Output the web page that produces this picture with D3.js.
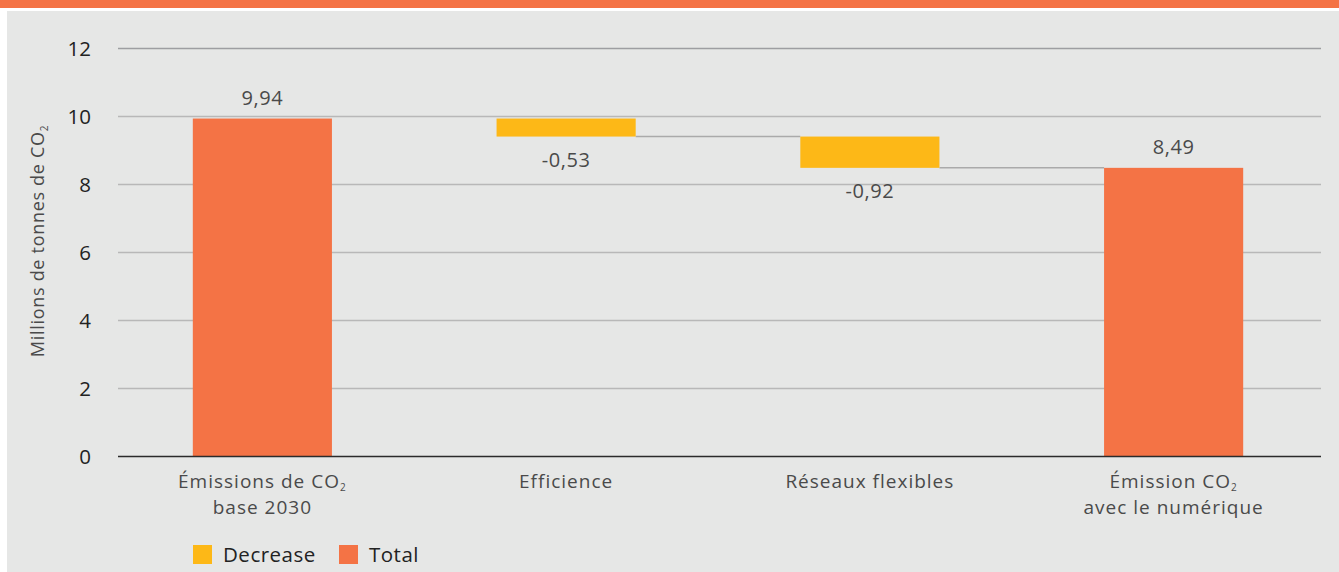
<!DOCTYPE html>
<html><head><meta charset="utf-8">
<script src="https://cdn.jsdelivr.net/npm/d3@7"></script>
<style>
html,body{margin:0;padding:0;background:#fff;}
text{font-family:"Open Sans","Noto Sans",sans-serif;}
</style></head>
<body>
<svg id="chart" width="1339" height="572"></svg>
<script>
const categories = [["Émissions de CO|2", "base 2030"], ["Efficience"], ["Réseaux flexibles"], ["Émission CO|2", "avec le numérique"]];
const kinds = ["Total", "Decrease", "Decrease", "Total"];
const values = [9.94, -0.53, -0.92, 8.49];
const labels = ["9,94", "-0,53", "-0,92", "8,49"];
const yTicks = [0, 2, 4, 6, 8, 10, 12];
const legendItems = ["Decrease", "Total"];
const colors = {Decrease: "#FDB817", Total: "#F47345"};

const svg = d3.select("#chart");
svg.append("rect").attr("x", 0).attr("y", 0).attr("width", 1339).attr("height", 8).attr("fill", "#F47345");
svg.append("rect").attr("x", 7).attr("y", 11).attr("width", 1332).attr("height", 561).attr("fill", "#E6E7E6");

const x0 = 118, x1 = 1321;
const y = d3.scaleLinear().domain([0, 12]).range([456.5, 48.5]);
const x = d3.scaleBand().domain(d3.range(categories.length)).range([110.5, 1325.5]).paddingInner(0.542).paddingOuter(0.271);

// gridlines
svg.append("g").selectAll("line").data(yTicks.filter(d => d > 0)).join("line")
  .attr("x1", x0).attr("x2", x1).attr("y1", d => y(d)).attr("y2", d => y(d))
  .attr("stroke", d => d === 12 ? "#9d9ea1" : "#b8b8b8").attr("stroke-width", 1.5);

// y tick labels
svg.append("g").selectAll("text").data(yTicks).join("text")
  .attr("x", 91).attr("y", d => y(d) + 7).attr("text-anchor", "end")
  .attr("font-size", 20.5).attr("fill", "#222").text(d => d);

// compute waterfall
let run = 0;
const bars = values.map((v, i) => {
  let lo, hi;
  if (kinds[i] === "Total") { lo = 0; hi = v; run = v; }
  else { hi = run; lo = run + v; run = lo; }
  return {i, lo, hi, kind: kinds[i]};
});

// connectors (from decrease bars to the next bar)
for (let i = 1; i < bars.length - 1; i++) {
  const lvl = bars[i].lo;
  svg.append("line").attr("x1", x(i) + x.bandwidth()).attr("x2", x(i + 1))
    .attr("y1", y(lvl)).attr("y2", y(lvl)).attr("stroke", "#aaa").attr("stroke-width", 1.5);
}

svg.append("g").selectAll("rect").data(bars).join("rect")
  .attr("x", d => x(d.i)).attr("width", x.bandwidth())
  .attr("y", d => y(d.hi)).attr("height", d => y(d.lo) - y(d.hi))
  .attr("fill", d => colors[d.kind]);

// value labels
svg.append("g").selectAll("text").data(bars).join("text")
  .attr("x", d => x(d.i) + x.bandwidth() / 2)
  .attr("y", d => d.kind === "Total" ? y(d.hi) - 14 : y(d.lo) + 30)
  .attr("text-anchor", "middle").attr("font-size", 20).attr("letter-spacing", 0.6).attr("fill", "#4a4a4a")
  .text((d, i) => labels[i]);

// x axis baseline
svg.append("line").attr("x1", x0).attr("x2", x1).attr("y1", y(0)).attr("y2", y(0))
  .attr("stroke", "#2b2b2b").attr("stroke-width", 1.5);

// category labels with subscript (one text element per line)
categories.forEach((lines, i) => {
  const cx = x(i) + x.bandwidth() / 2;
  lines.forEach((ln, j) => {
    const parts = ln.split("|");
    const t = svg.append("text").attr("text-anchor", "middle").attr("font-size", 19)
      .attr("letter-spacing", 1).attr("fill", "#4a4a4a")
      .attr("x", cx).attr("y", 488 + j * 26);
    t.append("tspan").text(parts[0]);
    if (parts[1]) {
      t.append("tspan").attr("font-size", 10).attr("dy", 3).text(parts[1]);
    }
  });
});

// y axis title
const yt = svg.append("text").attr("transform", "translate(44,241) rotate(-90)")
  .attr("text-anchor", "middle").attr("font-size", 18).attr("letter-spacing", 0.7).attr("fill", "#4a4a4a");
yt.append("tspan").text("Millions de tonnes de CO");
yt.append("tspan").attr("font-size", 10).attr("dy", 4).text("2");

// legend
const lg = svg.append("g");
const legX = [193, 339];
legendItems.forEach((k, i) => {
  lg.append("rect").attr("x", legX[i]).attr("y", 545).attr("width", 19).attr("height", 19).attr("fill", colors[k]);
  lg.append("text").attr("x", legX[i] + 30).attr("y", 562).attr("font-size", 20.5).attr("letter-spacing", 0.5).attr("fill", "#222").text(k);
});
</script>
</body></html>
